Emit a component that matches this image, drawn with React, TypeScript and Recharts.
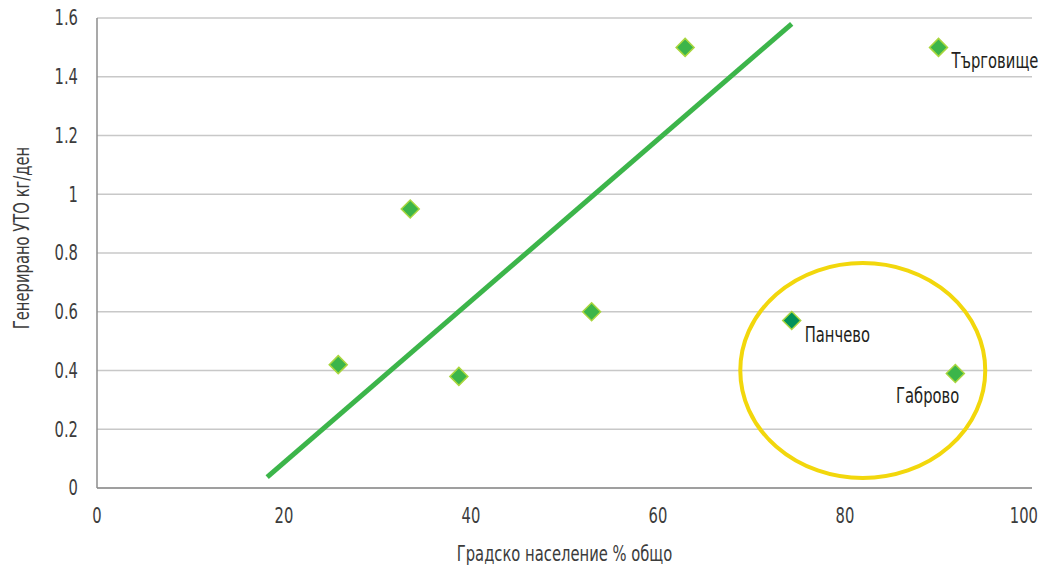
import { ScatterChart, Scatter, XAxis, YAxis, CartesianGrid, ReferenceArea, LabelList } from "recharts"

// urban population % (x) vs generated MSW kg/day (y)
const towns = ["", "", "", "", "", "Панчево", "Търговище", "Габрово"]
const urbanPct = [25.8, 33.5, 38.7, 52.9, 62.9, 74.3, 90.0, 91.8]
const wastePerDay = [0.42, 0.95, 0.38, 0.6, 1.5, 0.57, 1.5, 0.39]

// trend line end points
const trendX = [18.2, 74.3]
const trendY = [0.037, 1.58]

const xTicks = [0, 20, 40, 60, 80, 100]
const yTicks = [0, 0.2, 0.4, 0.6, 0.8, 1, 1.2, 1.4, 1.6]

const points = urbanPct.map((x, i) => ({ x, y: wastePerDay[i], name: towns[i] }))
const trend = trendX.map((x, i) => ({ x, y: trendY[i] }))

// condensed look: DejaVu Sans squeezed horizontally
const NarrowText = ({ x, y, anchor = "start", rotate = 0, dy = "0", fill = "#3c3c3c", children }: any) => (
  <text
    transform={`translate(${x},${y}) rotate(${rotate}) scale(0.72,1)`}
    textAnchor={anchor}
    dy={dy}
    fill={fill}
    fontSize={20.5}
    fontFamily="'DejaVu Sans', sans-serif"
  >
    {children}
  </text>
)

const XTick = ({ x, y, payload }: any) => {
  // last label is pulled inside the chart edge
  const last = payload.value === xTicks[xTicks.length - 1]
  return (
    <NarrowText x={last ? x + 7 : x} y={y} anchor={last ? "end" : "middle"} dy="0.71em">
      {payload.value}
    </NarrowText>
  )
}

const YTick = ({ x, y, payload }: any) => (
  <NarrowText x={x} y={y} anchor="end" dy="0.36em">{payload.value}</NarrowText>
)

const Diamond = (props: any) => {
  const { cx, cy, payload } = props
  const s = 9
  const fill = payload.name === "Панчево" ? "#00915a" : "#3cb54a"
  return (
    <path
      d={`M${cx},${cy - s} L${cx + s},${cy} L${cx},${cy + s} L${cx - s},${cy} Z`}
      fill={fill}
      stroke="#a9d63e"
      strokeWidth={1.5}
    />
  )
}

const TownLabel = (props: any) => {
  const { x, y, width, height, value } = props
  if (!value) return null
  const cx = x + width / 2
  const cy = y + height / 2
  const left = value === "Габрово"
  return (
    <NarrowText
      x={left ? cx + 4 : cx + 13}
      y={left ? cy + 30 : cy + 21}
      anchor={left ? "end" : "start"}
      fill="#231f20"
    >
      {value}
    </NarrowText>
  )
}

const Ellipse = (props: any) => {
  const { x, y, width, height } = props
  return (
    <ellipse
      cx={x + width / 2}
      cy={y + height / 2}
      rx={width / 2}
      ry={height / 2}
      fill="none"
      stroke="#f2d70c"
      strokeWidth={4}
    />
  )
}

export default function App() {
  return (
    <div style={{ position: "absolute", left: 0, top: 0, background: "#fff" }}>
      <ScatterChart width={1043} height={567} margin={{ top: 18, right: 11, bottom: 49, left: 37 }}>
        <CartesianGrid vertical={false} stroke="#c8c8c8" strokeWidth={1.5} />
        <XAxis
          type="number"
          dataKey="x"
          domain={[0, 100]}
          ticks={xTicks}
          height={30}
          tickLine={false}
          tickSize={0}
          tickMargin={20}
          axisLine={{ stroke: "#8c8c8c", strokeWidth: 1.5 }}
          tick={<XTick />}
          label={({ viewBox }: any) => (
            <NarrowText x={viewBox.x + viewBox.width / 2} y={viewBox.y + 73} anchor="middle">
              Градско население % общо
            </NarrowText>
          )}
        />
        <YAxis
          type="number"
          dataKey="y"
          domain={[0, 1.6]}
          ticks={yTicks}
          width={60}
          tickLine={false}
          tickSize={0}
          tickMargin={19}
          axisLine={{ stroke: "#8c8c8c", strokeWidth: 1.5 }}
          tick={<YTick />}
          label={({ viewBox }: any) => (
            <NarrowText x={29} y={viewBox.y + viewBox.height / 2 - 15} anchor="middle" rotate={-90}>
              Генерирано УТО кг/ден
            </NarrowText>
          )}
        />
        <ReferenceArea x1={68.8} x2={95} y1={0.034} y2={0.766} shape={<Ellipse />} ifOverflow="visible" />
        <Scatter
          data={trend}
          line={{ stroke: "#3cb54a", strokeWidth: 5 }}
          shape={() => null}
          isAnimationActive={false}
        />
        <Scatter data={points} shape={<Diamond />} isAnimationActive={false}>
          <LabelList dataKey="name" content={<TownLabel />} />
        </Scatter>
      </ScatterChart>
    </div>
  )
}
